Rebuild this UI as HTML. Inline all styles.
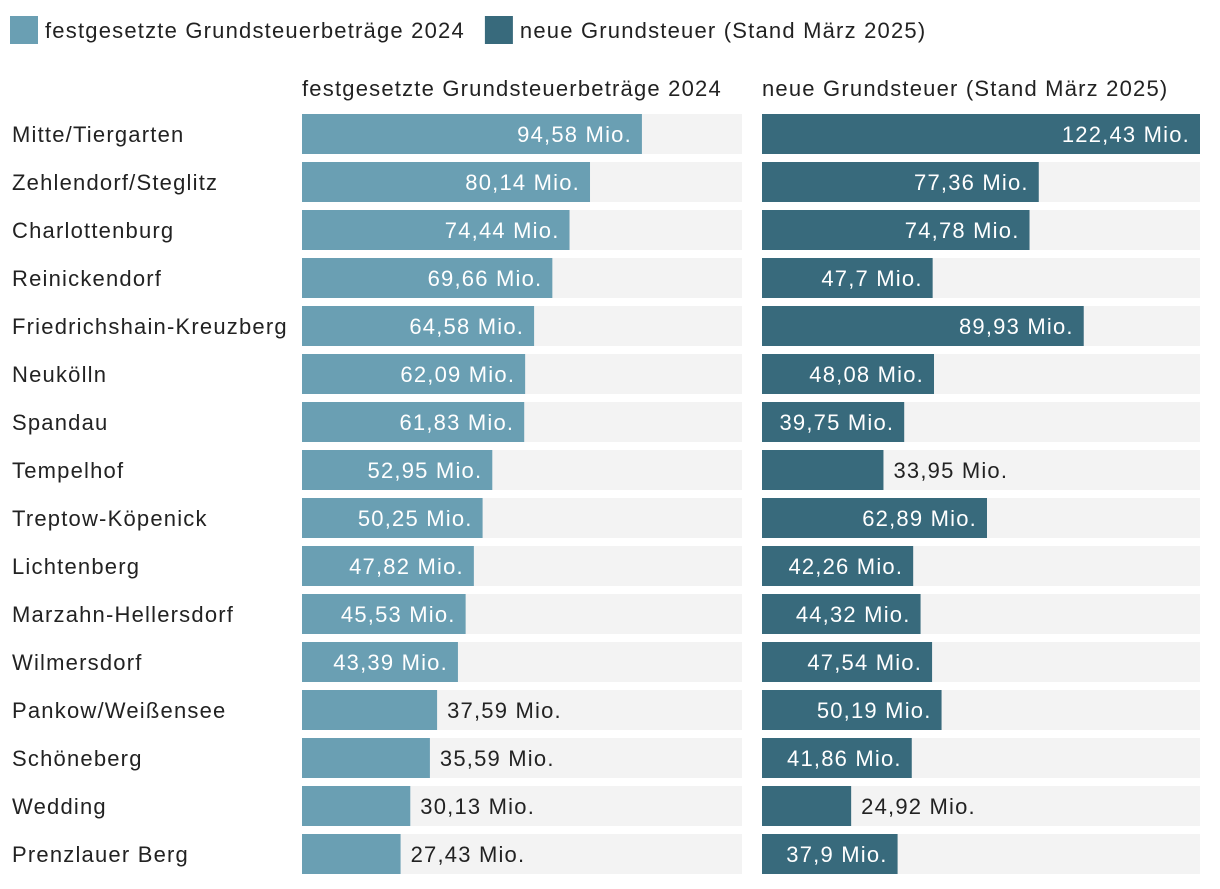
<!DOCTYPE html>
<html><head><meta charset="utf-8">
<style>
body{margin:0;background:#fff;width:1220px;height:884px;overflow:hidden;font-family:"Liberation Sans",sans-serif;color:#222;}
svg text{font-family:"Liberation Sans",sans-serif;letter-spacing:1.2px;}
</style></head>
<body>
<svg id="c" width="1220" height="884"></svg>
<script>
const districts=["Mitte/Tiergarten","Zehlendorf/Steglitz","Charlottenburg","Reinickendorf","Friedrichshain-Kreuzberg","Neukölln","Spandau","Tempelhof","Treptow-Köpenick","Lichtenberg","Marzahn-Hellersdorf","Wilmersdorf","Pankow/Weißensee","Schöneberg","Wedding","Prenzlauer Berg"];
const values2024=[94.58,80.14,74.44,69.66,64.58,62.09,61.83,52.95,50.25,47.82,45.53,43.39,37.59,35.59,30.13,27.43];
const values2025=[122.43,77.36,74.78,47.7,89.93,48.08,39.75,33.95,62.89,42.26,44.32,47.54,50.19,41.86,24.92,37.9];
const seriesNames=["festgesetzte Grundsteuerbeträge 2024","neue Grundsteuer (Stand März 2025)"];
const colors=["#6a9fb3","#386a7c"];
const svg=document.getElementById('c');const NS="http://www.w3.org/2000/svg";
function el(t,a,p){const e=document.createElementNS(NS,t);for(const k in a)e.setAttribute(k,a[k]);(p||svg).appendChild(e);return e;}
const maxV=Math.max(...values2024,...values2025);
const panels=[{x:302,w:440,vals:values2024},{x:762,w:438,vals:values2025}];
const rowY=i=>114+i*48;const barH=40;
const cv=document.createElement('canvas').getContext('2d');cv.font='22px "Liberation Sans"';
const tw=s=>cv.measureText(s).width+s.length*1.2;
const fmt=v=>String(v).replace('.',',')+' Mio.';
let lx=10;
seriesNames.forEach((n,k)=>{
  const r=el('rect',{x:lx,y:16,width:28,height:28,fill:colors[k]});
  
  
  const t=el('text',{x:lx+35,y:38,'font-size':22,fill:'#222'});t.textContent=n;
  
  
  lx+=35+tw(n)+20;
});
panels.forEach((p,k)=>{
  const h=el('text',{x:p.x,y:96,'font-size':22,fill:'#222'});h.textContent=seriesNames[k];
  
  
  const sx=v=>v/maxV*p.w;
  p.vals.forEach((v,i)=>{
    const y=rowY(i);
    const bg=el('rect',{x:p.x,y:y,width:p.w,height:barH,fill:'#f3f3f3'});
    
    
    const w=sx(v);
    const b=el('rect',{x:p.x,y:y,width:w,height:barH,fill:colors[k]});
    
    
    const s=fmt(v);const W=tw(s);
    const inside=w>=W+22;
    const t=el('text',{x:inside?p.x+w-10:p.x+w+10,y:y+28,'font-size':22,fill:inside?'#fff':'#222','text-anchor':inside?'end':'start'});
    t.textContent=s;
    
    
  });
});
districts.forEach((d,i)=>{
  const t=el('text',{x:12,y:rowY(i)+28,'font-size':22,fill:'#222'});t.textContent=d;
  
  
});
</script>
</body></html>
